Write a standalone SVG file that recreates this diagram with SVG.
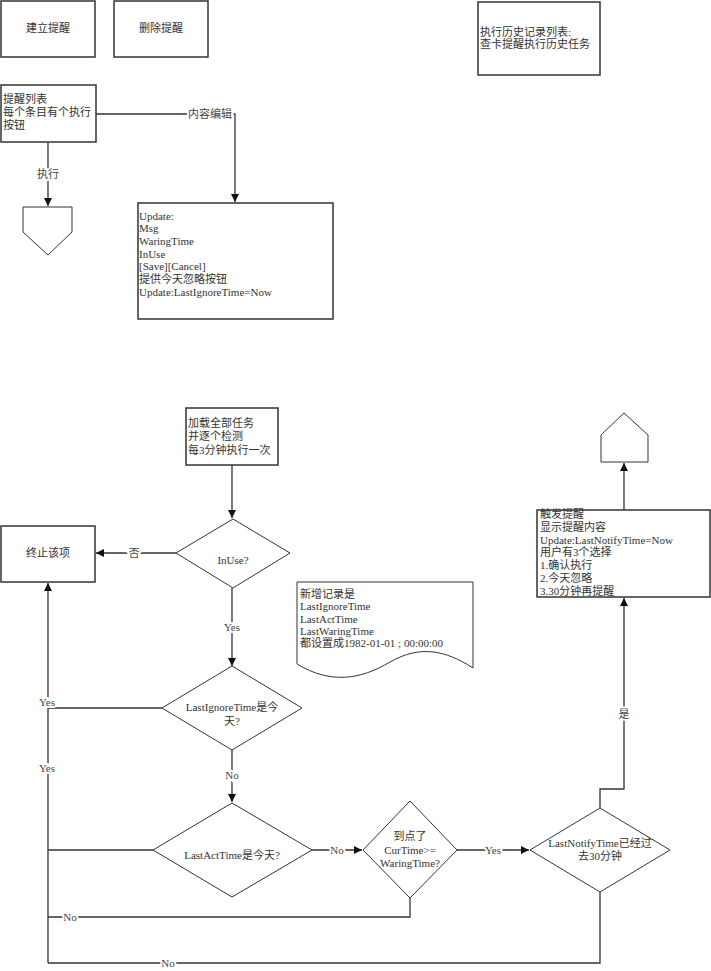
<svg xmlns="http://www.w3.org/2000/svg" width="711" height="971" viewBox="0 0 711 971">
<style>
.b{fill:#fff;stroke:#333;stroke-width:1.5}
.s{fill:#fff;stroke:#333;stroke-width:1}
.t{font-family:"Liberation Serif","Noto Sans CJK SC",serif;font-size:11px;fill:#333}
.c{text-anchor:middle}
.l{fill:none;stroke:#333;stroke-width:1.3}
.lb{font-family:"Liberation Serif","Noto Sans CJK SC",serif;font-size:11px;fill:#444;text-anchor:middle;stroke:#fff;stroke-width:4;paint-order:stroke}
</style>
<defs>
<marker id="a" viewBox="0 0 10 10" refX="10" refY="5" markerWidth="8" markerHeight="8" markerUnits="userSpaceOnUse" orient="auto">
<path d="M0,0 L10,5 L0,10 z" fill="#111"/>
</marker>
</defs>
<g id="connectors">
<path class="l" d="M96,114 H235 V202" marker-end="url(#a)"/>
<text class="lb" x="210" y="118">内容编辑</text>
<path class="l" d="M48,142 V206" marker-end="url(#a)"/>
<text class="lb" x="48" y="178">执行</text>
<path class="l" d="M232,465 V518" marker-end="url(#a)"/>
<path class="l" d="M176,553 H96" marker-end="url(#a)"/>
<text class="lb" x="134" y="557">否</text>
<path class="l" d="M232,588 V666" marker-end="url(#a)"/>
<text class="lb" x="232" y="631">Yes</text>
<path class="l" d="M232,750 V802" marker-end="url(#a)"/>
<text class="lb" x="232" y="779">No</text>
<path class="l" d="M48,963 V583" marker-end="url(#a)"/>
<path class="l" d="M162,708 H48"/>
<text class="lb" x="47" y="706">Yes</text>
<text class="lb" x="47" y="772">Yes</text>
<path class="l" d="M153,850 H48"/>
<path class="l" d="M312,850 H362" marker-end="url(#a)"/>
<text class="lb" x="337" y="854">No</text>
<path class="l" d="M410,898 V917 H48"/>
<text class="lb" x="70" y="921">No</text>
<path class="l" d="M457,850 H529" marker-end="url(#a)"/>
<text class="lb" x="493" y="854">Yes</text>
<path class="l" d="M600,892 V963 H48"/>
<text class="lb" x="168" y="967">No</text>
<path class="l" d="M600,808 V789 H624 V598" marker-end="url(#a)"/>
<text class="lb" x="624" y="718">是</text>
<path class="l" d="M624,510 V463" marker-end="url(#a)"/>
</g>
<g id="n-create">
<rect class="b" x="1" y="1" width="94" height="56"/>
<text class="t c" x="48" y="32">建立提醒</text>
</g>
<g id="n-delete">
<rect class="b" x="114" y="1" width="94" height="56"/>
<text class="t c" x="161" y="32">删除提醒</text>
</g>
<g id="n-history">
<rect class="b" x="478" y="2" width="122" height="73"/>
<text class="t" x="480" y="36">执行历史记录列表:</text>
<text class="t" x="480" y="48">查卡提醒执行历史任务</text>
</g>
<g id="n-list">
<rect class="b" x="1" y="85" width="95" height="57"/>
<text class="t" x="3" y="103">提醒列表</text>
<text class="t" x="3" y="116">每个条目有个执行</text>
<text class="t" x="3" y="129">按钮</text>
</g>
<g id="n-offpage-down">
<path class="s" d="M23,207 H72 V232 L48,255 L23,232 Z"/>
</g>
<g id="n-edit">
<rect class="b" x="138" y="203" width="195" height="116"/>
<text class="t" x="139" y="220">Update:</text>
<text class="t" x="139" y="232">Msg</text>
<text class="t" x="139" y="245">WaringTime</text>
<text class="t" x="139" y="258">InUse</text>
<text class="t" x="139" y="270">[Save][Cancel]</text>
<text class="t" x="139" y="283">提供今天忽略按钮</text>
<text class="t" x="139" y="296">Update:LastIgnoreTime=Now</text>
</g>
<g id="n-load">
<rect class="b" x="186" y="408" width="92" height="57"/>
<text class="t" x="188" y="427">加载全部任务</text>
<text class="t" x="188" y="440">并逐个检测</text>
<text class="t" x="188" y="454">每3分钟执行一次</text>
</g>
<g id="n-stop">
<rect class="b" x="1" y="526" width="94" height="56"/>
<text class="t c" x="48" y="557">终止该项</text>
</g>
<g id="n-inuse">
<path class="s" d="M233,519 L290,553 L233,588 L176,553 Z"/>
<text class="t c" x="233" y="564">InUse?</text>
</g>
<g id="n-note">
<path class="s" d="M297,582 H473 V668 C445,650 420,645 390,662 C360,680 330,684 297,664 Z"/>
<text class="t" x="300" y="598">新增记录是</text>
<text class="t" x="300" y="610">LastIgnoreTime</text>
<text class="t" x="300" y="623">LastActTime</text>
<text class="t" x="300" y="635">LastWaringTime</text>
<text class="t" x="300" y="647">都设置成1982-01-01 ; 00:00:00</text>
</g>
<g id="n-ignore">
<path class="s" d="M232,666 L302,708 L232,750 L162,708 Z"/>
<text class="t c" x="232" y="711">LastIgnoreTime是今</text>
<text class="t c" x="232" y="725">天?</text>
</g>
<g id="n-act">
<path class="s" d="M232,803 L312,850 L232,897 L153,850 Z"/>
<text class="t c" x="232" y="859">LastActTime是今天?</text>
</g>
<g id="n-cur">
<path class="s" d="M410,801 L457,850 L410,898 L363,850 Z"/>
<text class="t c" x="410" y="840">到点了</text>
<text class="t c" x="410" y="854">CurTime&gt;=</text>
<text class="t c" x="410" y="867">WaringTime?</text>
</g>
<g id="n-notify">
<path class="s" d="M600,808 L670,850 L600,892 L530,850 Z"/>
<text class="t c" x="600" y="847">LastNotifyTime已经过</text>
<text class="t c" x="600" y="860">去30分钟</text>
</g>
<g id="n-trigger">
<rect class="b" x="537" y="510" width="173" height="87"/>
<text class="t" x="540" y="518">触发提醒</text>
<text class="t" x="540" y="531">显示提醒内容</text>
<text class="t" x="540" y="544">Update:LastNotifyTime=Now</text>
<text class="t" x="540" y="556">用户有3个选择</text>
<text class="t" x="540" y="569">1.确认执行</text>
<text class="t" x="540" y="582">2.今天忽略</text>
<text class="t" x="540" y="595">3.30分钟再提醒</text>
</g>
<g id="n-offpage-up">
<path class="s" d="M601,462 V435 L624,413 L648,435 V462 Z"/>
</g>
</svg>
